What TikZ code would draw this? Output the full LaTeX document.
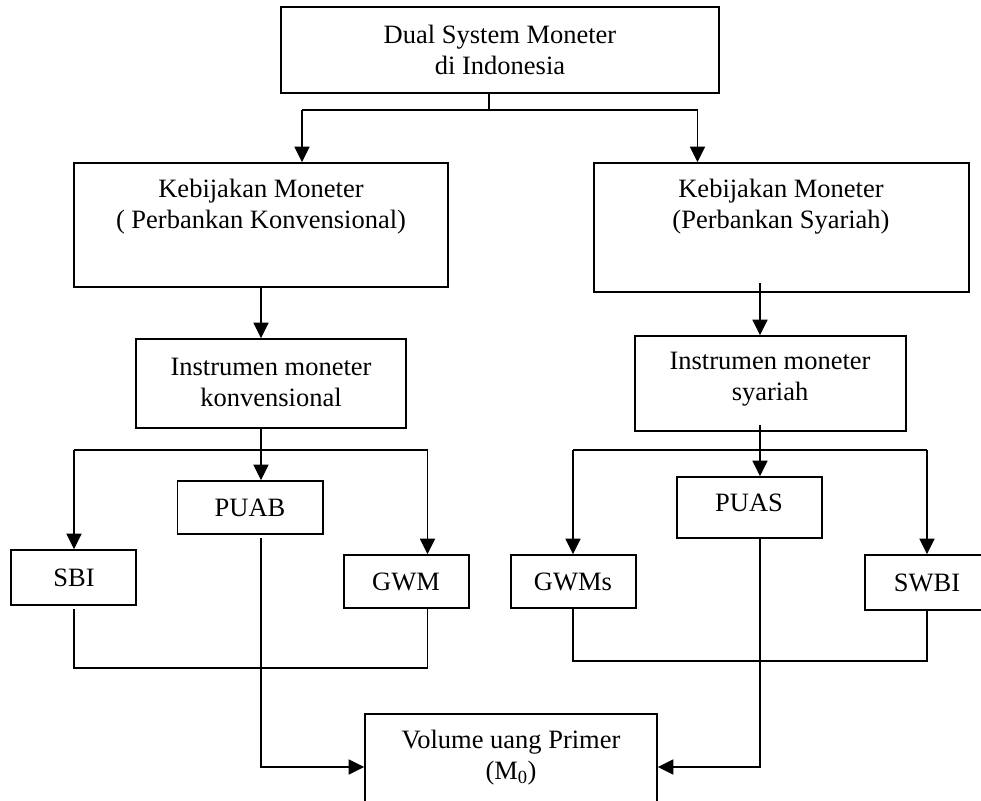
\documentclass[tikz,border=0pt]{standalone}
\usepackage{fontspec}
\setmainfont{Liberation Serif}
\usetikzlibrary{arrows.meta}
\begin{document}
\begin{tikzpicture}[x=1pt,y=-1pt,
  box/.style={draw, line width=1.6pt, inner sep=0pt},
  txt/.style={align=center, font=\fontsize{26.5}{31}\selectfont, inner sep=0pt},
  conn/.style={line width=1.3pt},
  arr/.style={conn, -{Triangle[length=15.5pt,width=15pt]}}]
\useasboundingbox (0,0) rectangle (981,800);
% boxes
\node[box, minimum width=438pt, minimum height=86pt] (top) at (500,50) {};
\node[box, minimum width=374pt, minimum height=124pt] (lk) at (261,225) {};
\node[box, minimum width=375pt, minimum height=129pt] (rk) at (781.5,227.5) {};
\node[box, minimum width=270pt, minimum height=89pt] (li) at (271,383.5) {};
\node[box, minimum width=271pt, minimum height=95pt] (ri) at (770.5,383.5) {};
\node[box, minimum width=145.5pt, minimum height=53pt] (puab) at (250.25,507.5) {};
\node[box, minimum width=125pt, minimum height=55pt] (sbi) at (73.5,577.5) {};
\node[box, minimum width=125pt, minimum height=53pt] (gwm) at (406.5,581.5) {};
\node[box, minimum width=125pt, minimum height=53pt] (gwms) at (573.5,581.5) {};
\node[box, minimum width=145pt, minimum height=61pt] (puas) at (749.5,507.5) {};
\node[box, minimum width=125pt, minimum height=55pt] (swbi) at (927.5,582.5) {};
\node[box, minimum width=292pt, minimum height=96pt] (vol) at (511,762) {};
% texts
\node[txt] (ttop) at (500,50) {Dual System Moneter\\di Indonesia};
\node[txt] (tlk) at (261,207) {Kebijakan Moneter\\( Perbankan Konvensional)};
\node[txt] (trk) at (781,207) {Kebijakan Moneter\\(Perbankan Syariah)};
\node[txt] (tli) at (271,382) {Instrumen moneter\\konvensional};
\node[txt] (tri) at (770,379) {Instrumen moneter\\syariah};
\node[txt] (tpuab) at (250,508) {PUAB};
\node[txt] (tsbi) at (74,578) {SBI};
\node[txt] (tgwm) at (406,582) {GWM};
\node[txt] (tgwms) at (573,582) {GWMs};
\node[txt] (tpuas) at (749,503) {PUAS};
\node[txt] (tswbi) at (927,583) {SWBI};
\node[txt] (tvol) at (511,758) {Volume uang Primer\\(M\textsubscript{0})};
% top split
\coordinate (s1) at (489,110);
\coordinate (c1l) at (302,0);
\coordinate (c1r) at (697.5,0);
\draw[conn] (top.south -| s1) -- (s1);
\draw[conn] (s1 -| c1l) -- (s1 -| c1r);
\draw[arr] (s1 -| c1l) -- (lk.north -| c1l);
\draw[arr] (s1 -| c1r) -- (rk.north -| c1r);
% kebijakan -> instrumen
\draw[arr] (lk.south) -- (lk.south |- li.north);
\coordinate (rks) at (760,283);
\draw[arr] (rks) -- (rks |- ri.north);
% left branch
\coordinate (s2) at (261,450);
\coordinate (xl) at (74,0);
\coordinate (xg) at (427.5,0);
\draw[conn] (li.south -| s2) -- (s2);
\draw[conn] (s2 -| xl) -- (s2 -| xg);
\draw[arr] (s2) -- (s2 |- puab.north);
\draw[arr] (s2 -| xl) -- (sbi.north -| xl);
\draw[arr] (s2 -| xg) -- (gwm.north -| xg);
\coordinate (b1) at (0,668);
\draw[conn, shorten <=3pt] (sbi.south -| xl) -- (b1 -| xl) -- (b1 -| xg) -- (gwm.south -| xg);
\coordinate (h) at (0,767);
\draw[arr, shorten <=3pt] (puab.south -| s2) -- (h -| s2) -- (h -| vol.west);
% right branch
\coordinate (rs) at (760,425);
\coordinate (s3) at (760,450);
\coordinate (xm) at (573,0);
\coordinate (xw) at (927,0);
\draw[conn] (rs) -- (s3);
\draw[conn] (s3 -| xm) -- (s3 -| xw);
\draw[arr] (s3) -- (s3 |- puas.north);
\draw[arr] (s3 -| xm) -- (gwms.north -| xm);
\draw[arr] (s3 -| xw) -- (swbi.north -| xw);
\coordinate (b2) at (0,661);
\draw[conn] (gwms.south -| xm) -- (b2 -| xm) -- (b2 -| xw) -- (swbi.south -| xw);
\draw[arr] (puas.south -| s3) -- (h -| s3) -- (h -| vol.east);
\end{tikzpicture}
\end{document}
